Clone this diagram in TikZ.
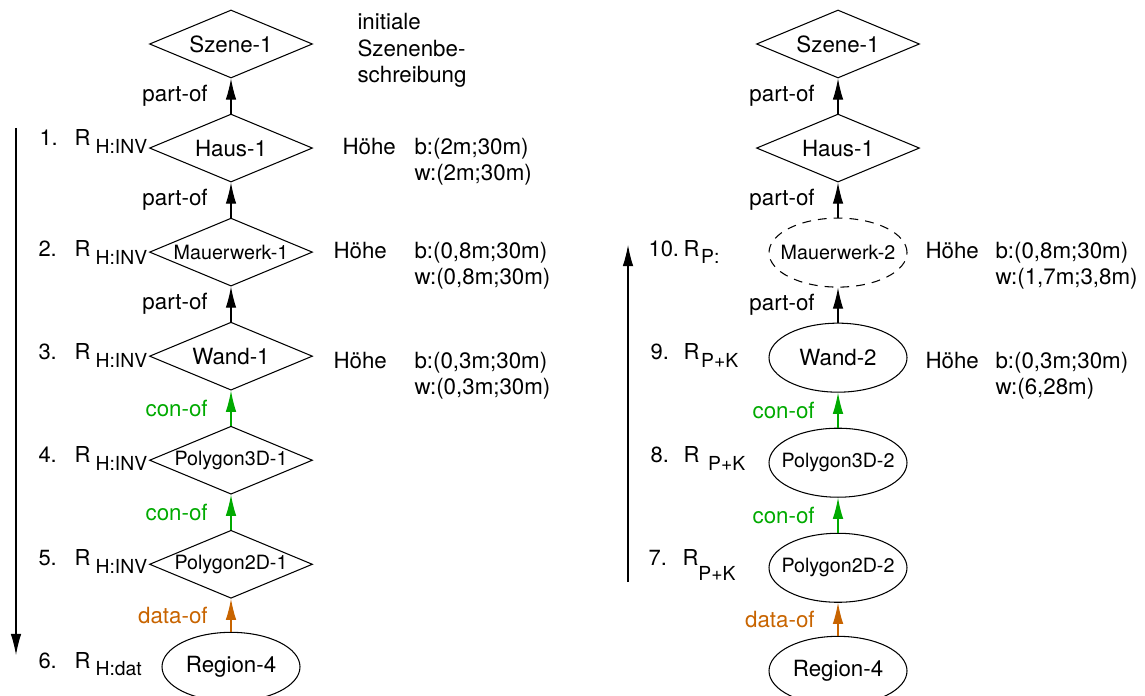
\documentclass[tikz,border=0pt]{standalone}
\usepackage{fontspec}
\setmainfont{TeX Gyre Heros}
\usepackage{xcolor}
\usetikzlibrary{shapes.geometric, positioning, arrows.meta}

\definecolor{congreen}{RGB}{0,170,0}
\definecolor{dataorange}{RGB}{200,100,0}

% R with a lowered index: \Rlab{index}{gap}{drop}
\newcommand{\Rlab}[3]{R\hspace{#2}\raisebox{-#3}{\fontsize{11}{13}\selectfont #1}}

\begin{document}
\begin{tikzpicture}[
        font=\fontsize{12.7}{15}\selectfont,
        line width=0.6pt,
        node distance=0.7cm,
        obj/.style={draw, diamond, aspect=2.4, inner sep=0pt, minimum width=3.26cm, minimum height=1.36cm},
        inst/.style={draw, ellipse, inner ysep=0pt, inner xsep=-0.3cm, minimum width=2.76cm, minimum height=1.38cm},
        small/.style={font=\fontsize{11.2}{13}\selectfont},
        rel/.style={-{Latex[length=12pt,width=6pt]}},
        lab/.style={midway, left=13pt, inner sep=0pt},
        txt/.style={anchor=base west, inner sep=0pt},
        num/.style={anchor=base west, inner sep=0pt, font=\fontsize{12.5}{15}\selectfont}
    ]
        \useasboundingbox (0,0) rectangle (22.9,-13.92);

        % hypothesis chain
        \node[obj] (szeneL) at (4.62,-0.88) {Szene-1};
        \node[obj, below=of szeneL] (hausL) {Haus-1};
        \node[obj, small, below=of hausL] (mauerL) {Mauerwerk-1};
        \node[obj, below=of mauerL] (wandL) {Wand-1};
        \node[obj, small, below=of wandL] (poly3L) {Polygon3D-1};
        \node[obj, small, below=of poly3L] (poly2L) {Polygon2D-1};
        \node[inst, below=0.66cm of poly2L] (regionL) {Region-4};

        \draw[rel] (hausL) -- node[lab] {part-of} (szeneL);
        \draw[rel] (mauerL) -- node[lab] {part-of} (hausL);
        \draw[rel] (wandL) -- node[lab] {part-of} (mauerL);
        \draw[rel, congreen] (poly3L) -- node[lab] {con-of} (wandL);
        \draw[rel, congreen] (poly2L) -- node[lab] {con-of} (poly3L);
        \draw[rel, dataorange] (regionL) -- node[lab] {data-of} (poly2L);

        \node[anchor=north west, align=left, inner sep=0pt] (initL) at (7.14,-0.26) {initiale\\Szenenbe-\\schreibung};

        % steps top-down
        \coordinate (downS) at (0.32,-2.56);
        \coordinate (downE) at (0.32,-13.10);
        \draw[rel] (downS) -- (downE);

        \node[num] (n1) at (0.78,-2.92) {1.};
        \node[num] (r1) at (1.48,-2.92) {\Rlab{H:INV}{3pt}{4pt}};
        \node[num] (n2) at (0.76,-5.12) {2.};
        \node[num] (r2) at (1.48,-5.12) {\Rlab{H:INV}{3pt}{5pt}};
        \node[num] (n3) at (0.76,-7.18) {3.};
        \node[num] (r3) at (1.48,-7.18) {\Rlab{H:INV}{3pt}{5pt}};
        \node[num] (n4) at (0.76,-9.24) {4.};
        \node[num] (r4) at (1.48,-9.24) {\Rlab{H:INV}{3pt}{5pt}};
        \node[num] (n5) at (0.76,-11.30) {5.};
        \node[num] (r5) at (1.48,-11.30) {\Rlab{H:INV}{3pt}{5pt}};
        \node[num] (n6) at (0.76,-13.36) {6.};
        \node[num] (r6) at (1.48,-13.36) {\Rlab{H:dat}{3pt}{4pt}};

        \node[txt] (h1) at (6.84,-3.10) {Höhe};
        \node[txt] (b1) at (8.28,-3.10) {b:(2m;30m)};
        \node[txt] (w1) at (8.28,-3.62) {w:(2m;30m)};
        \node[txt] (h2) at (6.66,-5.16) {Höhe};
        \node[txt] (b2) at (8.28,-5.16) {b:(0,8m;30m)};
        \node[txt] (w2) at (8.28,-5.68) {w:(0,8m;30m)};
        \node[txt] (h3) at (6.66,-7.36) {Höhe};
        \node[txt] (b3) at (8.28,-7.36) {b:(0,3m;30m)};
        \node[txt] (w3) at (8.28,-7.88) {w:(0,3m;30m)};

        % revised chain
        \node[obj] (szeneR) at (16.76,-0.88) {Szene-1};
        \node[obj, below=of szeneR] (hausR) {Haus-1};
        \node[inst, small, dashed, dash pattern=on 5pt off 4pt, below=of hausR] (mauerR) {Mauerwerk-2};
        \node[inst, below=of mauerR] (wandR) {Wand-2};
        \node[inst, small, below=of wandR] (poly3R) {Polygon3D-2};
        \node[inst, small, below=of poly3R] (poly2R) {Polygon2D-2};
        \node[inst, below=0.66cm of poly2R] (regionR) {Region-4};

        \draw[rel] (hausR) -- node[lab] {part-of} (szeneR);
        \draw[rel] (mauerR) -- node[lab] {part-of} (hausR);
        \draw[rel] (wandR) -- node[lab] {part-of} (mauerR);
        \draw[rel, congreen] (poly3R) -- node[lab] {con-of} (wandR);
        \draw[rel, congreen] (poly2R) -- node[lab] {con-of} (poly3R);
        \draw[rel, dataorange] (regionR) -- node[lab] {data-of} (poly2R);

        % steps bottom-up
        \coordinate (upS) at (12.56,-11.64);
        \coordinate (upE) at (12.56,-4.90);
        \draw[rel] (upS) -- (upE);

        \node[num] (n10) at (12.96,-5.12) {10.};
        \node[num] (r10) at (13.66,-5.12) {\Rlab{P:}{1pt}{4pt}};
        \node[num] (n9) at (13.00,-7.18) {9.};
        \node[num] (r9) at (13.66,-7.18) {\Rlab{P+K}{1pt}{5pt}};
        \node[num] (n8) at (13.00,-9.24) {8.};
        \node[num] (r8) at (13.66,-9.24) {\Rlab{P+K}{5pt}{5pt}};
        \node[num] (n7) at (12.96,-11.30) {7.};
        \node[num] (r7) at (13.64,-11.30) {\Rlab{P+K}{0pt}{9pt}};

        \node[txt] (h10) at (18.50,-5.16) {Höhe};
        \node[txt] (b10) at (19.90,-5.16) {b:(0,8m;30m)};
        \node[txt] (w10) at (19.90,-5.68) {w:(1,7m;3,8m)};
        \node[txt] (h9) at (18.50,-7.36) {Höhe};
        \node[txt] (b9) at (19.90,-7.36) {b:(0,3m;30m)};
        \node[txt] (w9) at (19.90,-7.88) {w:(6,28m)};
    \end{tikzpicture}
\end{document}
